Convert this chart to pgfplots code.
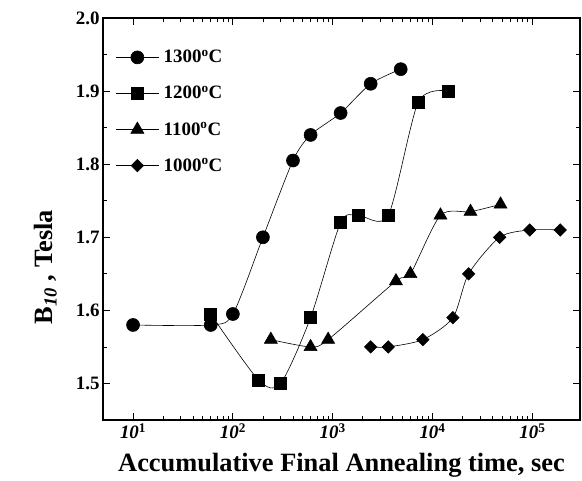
\documentclass[border=0pt]{standalone}
\usepackage{fontspec}
\setmainfont{Liberation Serif}
\usepackage{pgfplots}
\pgfplotsset{compat=1.18}
\begin{document}
\begin{tikzpicture}
\begin{axis}[
  scale only axis,
  width=477bp, height=402bp,
  xmode=log,
  xmin=5, xmax=3e5,
  ymin=1.45, ymax=2.0,
  axis line style={line width=1.1bp},
  tick align=inside,
  tick style={line width=0.8bp, black},
  major tick length=7bp, minor tick length=4bp,
  xtick={10,100,1000,10000,100000},
  xticklabels={\textit{10}\textsuperscript{1},\textit{10}\textsuperscript{2},\textit{10}\textsuperscript{3},\textit{10}\textsuperscript{4},\textit{10}\textsuperscript{5}},
  ytick={1.5,1.6,1.7,1.8,1.9,2.0},
  yticklabels={1.5,1.6,1.7,1.8,1.9,2.0},
  minor y tick num=1,
  tick label style={font=\fontsize{19}{22}\selectfont\bfseries},
  xlabel={Accumulative Final Annealing time, sec},
  ylabel={B\textsubscript{\textit{10}} , Tesla},
  label style={font=\fontsize{26.5}{30}\selectfont\bfseries},
  xlabel style={at={(axis description cs:0.5,-0.112)}, anchor=center},
  ylabel style={at={(axis description cs:-0.12,0.38)}, anchor=center, rotate=0},
  legend style={at={(axis description cs:0.027,0.925)}, anchor=north west, draw=none, fill=none,
    font=\fontsize{19}{22}\selectfont\bfseries, row sep=18bp, inner sep=0pt,
    nodes={inner xsep=5bp}},
  legend cell align=left,
  legend image code/.code={\draw[mark repeat=2,mark phase=2,#1] plot coordinates {(0bp,0bp)(21bp,0bp)(42bp,0bp)};},
  every axis plot/.append style={black, line width=0.6bp, smooth, tension=0.45},
]
\addplot[mark=*, mark size=6.5bp, mark options={solid}] coordinates {
 (10,1.58) (60,1.58) (100,1.595) (200,1.70) (400,1.805) (600,1.84) (1200,1.87) (2400,1.91) (4800,1.93)};
\addlegendentry{1300\textsuperscript{o}C}
\addplot[mark=square*, mark size=6bp] coordinates {
 (60,1.595) (180,1.505) (300,1.50) (600,1.59) (1200,1.72) (1800,1.73) (3600,1.73) (7200,1.885) (14400,1.90)};
\addlegendentry{1200\textsuperscript{o}C}
\addplot[mark=triangle*, mark size=7.5bp] coordinates {
 (240,1.56) (600,1.55) (900,1.56) (4300,1.64) (6000,1.65) (12000,1.73) (24000,1.735) (48000,1.745)};
\addlegendentry{1100\textsuperscript{o}C}
\addplot[mark=square*, mark size=4.4bp, mark options={rotate=45}] coordinates {
 (2400,1.55) (3600,1.55) (8000,1.56) (16000,1.59) (23000,1.65) (47000,1.70) (94000,1.71) (190000,1.71)};
\addlegendentry{1000\textsuperscript{o}C}
\end{axis}
\pgfresetboundingbox
\path[use as bounding box] (current axis.south west) ++(-103bp,-61bp) rectangle ++(582bp,481bp);
\end{tikzpicture}
\end{document}
